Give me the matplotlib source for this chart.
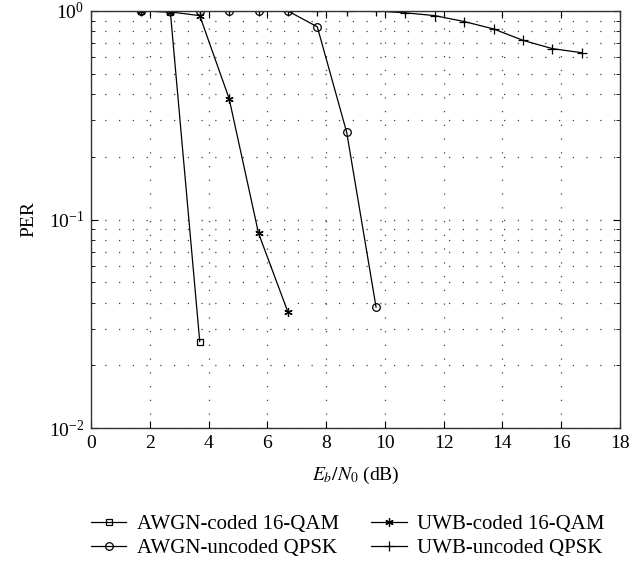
import matplotlib
matplotlib.use("Agg")
import matplotlib.pyplot as plt
import numpy as np
from matplotlib.ticker import LogLocator, NullFormatter

plt.rcParams['font.family'] = ['Liberation Serif', 'DejaVu Serif']
plt.rcParams['mathtext.fontset'] = 'stix'

# Data
x_awgn_coded = [1.7, 2.7, 3.7]
per_awgn_coded = [1.0, 0.99, 0.026]

x_uwb_coded = [1.7, 2.7, 3.7, 4.7, 5.7, 6.7]
per_uwb_coded = [1.0, 0.99, 0.95, 0.38, 0.086, 0.036]

x_awgn_uncoded = [1.7, 2.7, 3.7, 4.7, 5.7, 6.7, 7.7, 8.7, 9.7]
per_awgn_uncoded = [1.0, 1.0, 1.0, 1.0, 1.0, 1.0, 0.84, 0.262, 0.038]

x_uwb_uncoded = [1.7, 2.7, 3.7, 4.7, 5.7, 6.7, 7.7, 8.7, 9.7, 10.7, 11.7, 12.7, 13.7, 14.7, 15.7, 16.7]
per_uwb_uncoded = [1.0, 1.0, 1.0, 1.0, 1.0, 1.0, 1.0, 1.0, 1.0, 0.98, 0.95, 0.89, 0.82, 0.723, 0.66, 0.631]

labels = ["AWGN-coded 16-QAM", "AWGN-uncoded QPSK", "UWB-coded 16-QAM", "UWB-uncoded QPSK"]

fig = plt.figure(figsize=(6.32, 5.64), dpi=100)
ax = fig.add_axes([0.144, 0.241, 0.837, 0.7395])

kw = dict(color='black', linewidth=0.9, markerfacecolor='none', markeredgecolor='black', markeredgewidth=0.9)
h1, = ax.plot(x_awgn_coded, per_awgn_coded, marker='s', markersize=4.5, label=labels[0], **kw)
h2, = ax.plot(x_awgn_uncoded, per_awgn_uncoded, marker='o', markersize=5.5, label=labels[1], **kw)
h3, = ax.plot(x_uwb_coded, per_uwb_coded, marker=(6, 2, 0), markersize=6, label=labels[2], **kw)
h4, = ax.plot(x_uwb_uncoded, per_uwb_uncoded, marker='+', markersize=7, label=labels[3], **kw)

ax.set_yscale('log')
ax.set_xlim(0, 18)
ax.set_ylim(0.01, 1.0)
ax.set_xticks(np.arange(0, 19, 2))
ax.yaxis.set_major_locator(LogLocator(base=10, numticks=10))
ax.yaxis.set_minor_locator(LogLocator(base=10, subs=np.arange(2, 10), numticks=20))
ax.yaxis.set_minor_formatter(NullFormatter())

gkw = dict(linestyle=(0, (1, 10)), color='0.25', linewidth=0.9)
ax.grid(True, which='major', **gkw)
ax.grid(True, which='minor', axis='y', **gkw)

ax.tick_params(which='both', direction='in', top=True, right=True, labelsize=14, pad=5)
ax.tick_params(which='major', length=5)
ax.tick_params(which='minor', length=3)
for s in ax.spines.values():
    s.set_linewidth(1.0)
    s.set_color('0.2')

ax.set_xlabel(r"$E_b/N_0$ (dB)", fontsize=14, labelpad=9)
ax.set_ylabel("PER", fontsize=14, labelpad=8)

fig.legend(handles=[h1, h2, h3, h4], labels=labels, loc='center left',
           bbox_to_anchor=(0.144, 1 - 536.5 / 564), borderpad=0, borderaxespad=0,
           ncol=2, frameon=False, fontsize=15, handlelength=1.7, columnspacing=1.55,
           labelspacing=0.2, handletextpad=0.5)

fig.savefig("out.png", dpi=100)
